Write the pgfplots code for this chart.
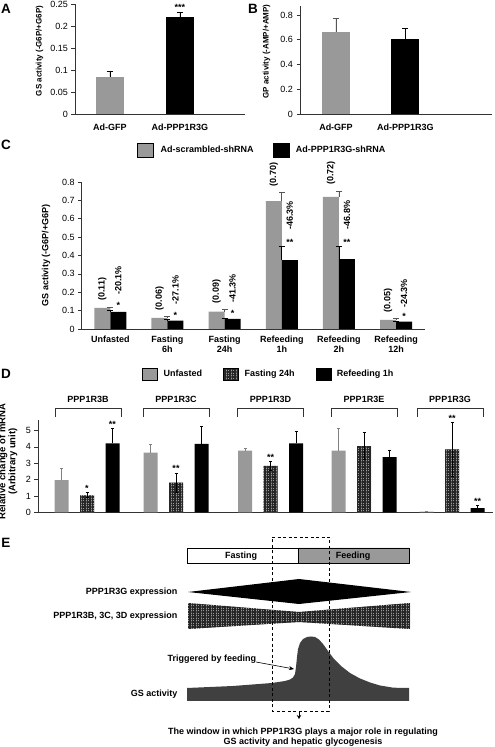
\documentclass[border=0pt]{standalone}
\usepackage{fontspec}
\setmainfont{Liberation Sans}
\usepackage{pgfplots}
\pgfplotsset{compat=1.18}
\usetikzlibrary{patterns,patterns.meta,arrows.meta}
\definecolor{barg}{HTML}{999999}
\definecolor{errg}{HTML}{555555}
\definecolor{errgd}{HTML}{808080}
\definecolor{gsfill}{HTML}{404040}
\definecolor{axc}{HTML}{333333}
\newcommand{\ninept}{\fontsize{9}{10}\selectfont}
\newcommand{\eightpt}{\fontsize{8}{9}\selectfont}
\newcommand{\letterfont}{\fontsize{13.5}{14}\selectfont}

\tikzset{
  hatchbar/.style={fill=barg, postaction={pattern={Hatch[distance=2.5pt, line width=1.15pt]}, pattern color=black!85}},
  rotlab/.style={rotate=90, anchor=west, font=\bfseries\ninept, inner ysep=0pt, inner xsep=#1},
  star/.style={font=\bfseries\ninept, inner sep=1pt},
}
\pgfplotsset{
  panel/.style={
    scale only axis, clip=false,
    axis x line=bottom, axis y line=left,
    axis line style={-, axc, line width=0.8pt},
    xtick style={draw=none},
    ytick style={axc, line width=0.6pt},
    tick align=outside, major tick length=3.5pt,
    ytick pos=left,
    yticklabel style={font=\ninept, /pgf/number format/fixed, /pgf/number format/precision=2, /pgf/number format/assume math mode=true},
    xticklabel style={font=\bfseries\ninept, align=center},
    ylabel style={font=\bfseries\eightpt},
  },
  errp/.style n args={2}{/pgfplots/error bars/y dir=plus, /pgfplots/error bars/y explicit,
    /pgfplots/error bars/error bar style={line width=0.8pt, #1},
    /pgfplots/error bars/error mark options={rotate=90, mark size=#2, line width=0.8pt, #1}},
  errb/.style n args={2}{/pgfplots/error bars/y dir=both, /pgfplots/error bars/y explicit,
    /pgfplots/error bars/error bar style={line width=0.8pt, #1},
    /pgfplots/error bars/error mark options={rotate=90, mark size=#2, line width=0.8pt, #1}},
}

\begin{document}
\begin{tikzpicture}[x=1pt,y=1pt]
\path[use as bounding box] (0pt,0pt) rectangle (495pt,747pt);

\node[font=\bfseries\letterfont] at (6pt,738pt) {A};
\node[font=\bfseries\letterfont] at (253pt,738pt) {B};
\node[font=\bfseries\letterfont] at (6pt,602pt) {C};
\node[font=\bfseries\letterfont] at (6pt,373pt) {D};
\node[font=\bfseries\letterfont] at (6pt,204pt) {E};

% ---------------- A ----------------
\begin{axis}[panel, at={(75pt,633pt)}, anchor=south west, width=170pt, height=110pt,
  xmin=-0.5, xmax=1.93, ymin=0, ymax=0.25,
  ytick={0,0.05,0.1,0.15,0.2,0.25},
  xtick={0,1}, xticklabels={Ad-GFP,Ad-PPP1R3G},
  xticklabel style={yshift=-3pt},
  ylabel={GS activity (-G6P/+G6P)},
  ylabel style={at={(axis description cs:-0.209,0.573)}, anchor=center}]
\addplot[ybar, bar width=28pt, bar shift=0pt, fill=barg, draw=none, errp={black}{3pt}]
  coordinates {(0,0.085) +- (0,0.011)};
\addplot[ybar, bar width=28pt, bar shift=0pt, fill=black, draw=none, errp={black}{3pt}]
  coordinates {(1,0.22) +- (0,0.01)};
\node[star, anchor=south] at (axis cs:1,0.232) {***};
\end{axis}

% ---------------- B ----------------
\begin{axis}[panel, at={(300pt,633pt)}, anchor=south west, width=192pt, height=108pt,
  xmin=-0.518, xmax=2.245, ymin=0, ymax=0.873,
  ytick={0,0.2,0.4,0.6,0.8},
  xtick={0,1}, xticklabels={Ad-GFP,Ad-PPP1R3G},
  xticklabel style={yshift=-3pt},
  ylabel={GP activity (-AMP/+AMP)},
  ylabel style={at={(axis description cs:-0.174,0.58)}, anchor=center}]
\addplot[ybar, bar width=28pt, bar shift=0pt, fill=barg, draw=none, errp={errg}{3pt}]
  coordinates {(0,0.66) +- (0,0.11)};
\addplot[ybar, bar width=28pt, bar shift=0pt, fill=black, draw=none, errp={black}{3pt}]
  coordinates {(1,0.605) +- (0,0.09)};
\end{axis}

% ---------------- C ----------------
\begin{axis}[panel, at={(81.7pt,418pt)}, anchor=south west, width=343pt, height=147pt,
  xmin=-0.5, xmax=5.5, ymin=0, ymax=0.8,
  ytick={0,0.1,0.2,0.3,0.4,0.5,0.6,0.7,0.8},
  xtick={0,1,2,3,4,5},
  xticklabels={Unfasted,{Fasting\\6h},{Fasting\\24h},{Refeeding\\1h},{Refeeding\\2h},{Refeeding\\12h}},
  ylabel={GS activity (-G6P/+G6P)},
  ylabel style={font=\bfseries\ninept, at={(axis description cs:-0.104,0.5)}, anchor=center},
  legend columns=2,
  legend image code/.code={\path[#1] (0pt,-7pt) rectangle (16pt,7pt);},
  legend style={at={(0.161,1.218)}, anchor=west, draw=none, fill=none, inner sep=0pt,
    font=\bfseries\ninept, nodes={inner sep=0pt},
    /tikz/every odd column/.append style={column sep=7pt},
    /tikz/every even column/.append style={column sep=19pt}}]
\addlegendimage{fill=barg}\addlegendentry{Ad-scrambled-shRNA}
\addlegendimage{fill=black}\addlegendentry{Ad-PPP1R3G-shRNA}
\addplot[ybar, bar width=16pt, bar shift=-8pt, fill=barg, draw=none, errp={errg}{3pt}, forget plot]
  coordinates {(0,0.115) +- (0,0.004) (1,0.061) +- (0,0.007) (2,0.095) +- (0,0.010)
               (3,0.696) +- (0,0.047) (4,0.719) +- (0,0.031) (5,0.049) +- (0,0.008)};
\addplot[ybar, bar width=16pt, bar shift=8pt, fill=black, draw=none, errp={black}{3pt}, forget plot]
  coordinates {(0,0.093) +- (0,0.010) (1,0.045) +- (0,0.006) (2,0.055) +- (0,0.004)
               (3,0.375) +- (0,0.072) (4,0.380) +- (0,0.070) (5,0.040) +- (0,0.003)};
\node[rotlab=6pt] at (axis cs:-0.14,0.119) {(0.11)};
\node[rotlab=6pt] at (axis cs:0.86,0.068) {(0.06)};
\node[rotlab=6pt] at (axis cs:1.86,0.105) {(0.09)};
\node[rotlab=6pt] at (axis cs:2.86,0.743) {(0.70)};
\node[rotlab=6pt] at (axis cs:3.86,0.750) {(0.72)};
\node[rotlab=6pt] at (axis cs:4.86,0.057) {(0.05)};
\node[star, anchor=south] at (axis cs:0.14,0.103) {*};
\node[star, anchor=south] at (axis cs:1.14,0.051) {*};
\node[star, anchor=south] at (axis cs:2.14,0.059) {*};
\node[star, anchor=south] at (axis cs:3.14,0.447) {**};
\node[star, anchor=south] at (axis cs:4.14,0.450) {**};
\node[star, anchor=south] at (axis cs:5.14,0.043) {*};
\node[rotlab=15pt] at (axis cs:0.14,0.103) {-20.1\%};
\node[rotlab=15pt] at (axis cs:1.14,0.051) {-27.1\%};
\node[rotlab=15pt] at (axis cs:2.14,0.059) {-41.3\%};
\node[rotlab=17pt] at (axis cs:3.14,0.447) {-46.3\%};
\node[rotlab=17pt] at (axis cs:4.14,0.450) {-46.8\%};
\node[rotlab=13pt] at (axis cs:5.14,0.043) {-24.3\%};
\end{axis}

% ---------------- D ----------------
\begin{axis}[panel, at={(38pt,234.5pt)}, anchor=south west, width=455pt, height=92.5pt,
  xmin=38, xmax=493, ymin=0, ymax=5.64,
  ytick={0,1,2,3,4,5}, xtick=\empty,
  ylabel={Relative change of mRNA\\(Arbitrary unit)},
  ylabel style={font=\bfseries\fontsize{9.5}{10}\selectfont, align=center, at={(axis description cs:-0.066,0.55)}, anchor=center},
  legend columns=3,
  legend image code/.code={\path[#1] (0pt,-6pt) rectangle (15pt,6pt);},
  legend style={at={(0.2286,1.497)}, anchor=west, draw=none, fill=none, inner sep=0pt,
    font=\bfseries\ninept, nodes={inner sep=0pt},
    /tikz/every odd column/.append style={column sep=6pt},
    /tikz/every even column/.append style={column sep=21pt}}]
\addlegendimage{fill=barg}\addlegendentry{Unfasted}
\addlegendimage{hatchbar}\addlegendentry{Fasting 24h}
\addlegendimage{fill=black}\addlegendentry{Refeeding 1h}
\addplot[ybar, bar width=14pt, bar shift=0pt, fill=barg, draw=none, errp={errgd}{1.5pt}, forget plot]
  coordinates {(61.5,1.98) +- (0,0.72) (150.5,3.65) +- (0,0.50) (245,3.77) +- (0,0.14)
               (338.5,3.77) +- (0,1.36) (426.5,0.05) +- (0,0.03)};
\addplot[ybar, bar width=14pt, bar shift=0pt, hatchbar, draw=none, errb={black}{1.5pt}, forget plot]
  coordinates {(87,1.05) +- (0,0.15) (176,1.82) +- (0,0.57) (270.5,2.84) +- (0,0.30)
               (364,4.05) +- (0,0.83) (452,3.85) +- (0,1.63)};
\addplot[ybar, bar width=14pt, bar shift=0pt, fill=black, draw=none, errp={black}{1.5pt}, forget plot]
  coordinates {(112.5,4.22) +- (0,0.91) (201.5,4.18) +- (0,1.05) (296,4.22) +- (0,0.75)
               (389.5,3.37) +- (0,0.44) (477.5,0.26) +- (0,0.15)};
\addplot[axc, line width=0.6pt, forget plot] coordinates {(55,5.82) (55,6.37) (121,6.37) (121,5.82)};
\addplot[axc, line width=0.6pt, forget plot] coordinates {(143,5.82) (143,6.37) (209,6.37) (209,5.82)};
\addplot[axc, line width=0.6pt, forget plot] coordinates {(237.5,5.82) (237.5,6.37) (303.5,6.37) (303.5,5.82)};
\addplot[axc, line width=0.6pt, forget plot] coordinates {(331,5.82) (331,6.37) (397,6.37) (397,5.82)};
\addplot[axc, line width=0.6pt, forget plot] coordinates {(417,5.82) (417,6.37) (483,6.37) (483,5.82)};
\node[font=\bfseries\ninept] at (axis cs:88,6.92) {PPP1R3B};
\node[font=\bfseries\ninept] at (axis cs:176,6.92) {PPP1R3C};
\node[font=\bfseries\ninept] at (axis cs:270.5,6.92) {PPP1R3D};
\node[font=\bfseries\ninept] at (axis cs:364,6.92) {PPP1R3E};
\node[font=\bfseries\ninept] at (axis cs:450,6.92) {PPP1R3G};
\node[star] at (axis cs:87,1.45) {*};
\node[star] at (axis cs:112.5,5.35) {**};
\node[star] at (axis cs:176,2.67) {**};
\node[star] at (axis cs:270.5,3.38) {**};
\node[star] at (axis cs:452,5.72) {**};
\node[star] at (axis cs:477.5,0.68) {**};
\end{axis}

% ---------------- E ----------------
\begin{axis}[at={(0pt,0pt)}, anchor=south west, scale only axis, width=495pt, height=230pt,
  xmin=0, xmax=495, ymin=0, ymax=230, hide axis, clip=false]
\addplot[fill=white, draw=black, line width=0.6pt] coordinates {(187,184) (298,184) (298,199) (187,199) (187,184)};
\addplot[fill=barg, draw=black, line width=0.6pt] coordinates {(298,184) (409,184) (409,199) (298,199) (298,184)};
\node[font=\bfseries\ninept] at (axis cs:241,191) {Fasting};
\node[font=\bfseries\ninept] at (axis cs:353,191) {Feeding};
\addplot[fill=black, draw=none] coordinates {(188,155) (299,168) (411,155) (299,143) (188,155)};
\addplot[hatchbar, draw=none] coordinates {(188,144) (299,135) (410,144) (410,118) (299,125) (188,118) (188,144)};
\addplot[fill=gsfill, draw=none] coordinates {
  (187,46) (187,59) (233,61) (272,64) (285,66) (290,67.5) (293,69.5) (295,73) (296,80) (297,90)
  (298,98) (300,104) (303,108) (307,110) (311,110.5) (315,110) (319,107.5) (323,103)
  (328,96) (334,88) (341,81) (350,74) (360,68.5) (370,64.5) (380,61.5) (392,59.5)
  (400,59) (409,59) (409,46) (187,46)};
\addplot[black, dash pattern=on 3pt off 2.5pt, line width=0.7pt] coordinates {(272,210) (329,210) (329,36) (272,36) (272,210)};
\addplot[black, line width=0.6pt, -{Stealth[length=5pt,width=4pt]}] coordinates {(256,85) (294,78)};
\addplot[black, line width=0.6pt, -{Stealth[length=4pt,width=4.5pt]}] coordinates {(299,36) (299,28)};
\node[font=\bfseries\ninept, anchor=east] at (axis cs:181,155) {PPP1R3G expression};
\node[font=\bfseries\ninept, anchor=east] at (axis cs:181,131) {PPP1R3B, 3C, 3D expression};
\node[font=\bfseries\ninept, anchor=west] at (axis cs:164,88) {Triggered by feeding};
\node[font=\bfseries\ninept, anchor=east] at (axis cs:181,53) {GS activity};
\node[font=\bfseries\ninept] at (axis cs:303,15) {The window in which PPP1R3G plays a major role in regulating};
\node[font=\bfseries\ninept] at (axis cs:303,5) {GS activity and hepatic glycogenesis};
\end{axis}
\end{tikzpicture}
\end{document}
